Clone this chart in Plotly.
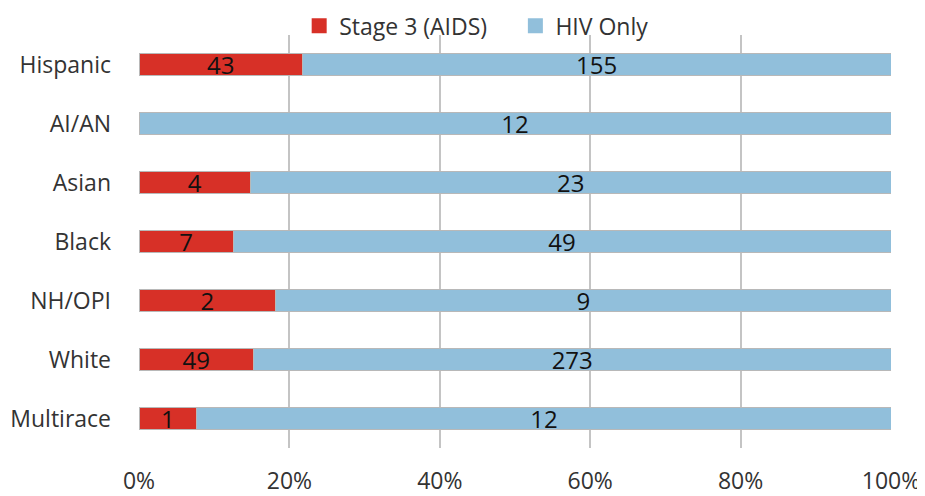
import plotly.graph_objects as go

categories = ["Hispanic", "AI/AN", "Asian", "Black", "NH/OPI", "White", "Multirace"]
stage3 = [43, 0, 4, 7, 2, 49, 1]
hiv_only = [155, 12, 23, 49, 9, 273, 12]
tick_vals = [0, 20, 40, 60, 80, 100]
tick_text = ["0%", "20%", "40%", "60%", "80%", "100%"]

FONT = "Open Sans"
TXT = "#333333"
RED = "#d73027"
BLUE = "#91bfdb"

fig = go.Figure()
fig.add_trace(go.Bar(
    y=categories, x=stage3, orientation="h", name="Stage 3 (AIDS)", showlegend=False,
    marker=dict(color=RED, line=dict(color="#b8b8b8", width=1)),
    text=[str(v) if v else "" for v in stage3],
    textposition="inside", insidetextanchor="middle", textangle=0,
    constraintext="none",
    textfont=dict(color="#111111", size=24, family=FONT),
))
fig.add_trace(go.Bar(
    y=categories, x=hiv_only, orientation="h", name="HIV Only", showlegend=False,
    marker=dict(color=BLUE, line=dict(color="#b8b8b8", width=1)),
    text=[str(v) for v in hiv_only],
    textposition="inside", insidetextanchor="middle", textangle=0,
    constraintext="none",
    textfont=dict(color="#111111", size=24, family=FONT),
))
# legend entries with larger square swatches
fig.add_trace(go.Scatter(x=[None], y=[None], mode="markers", name="Stage 3 (AIDS)",
                         legend="legend", hoverinfo="skip",
                         marker=dict(symbol="square", size=15, color=RED)))
fig.add_trace(go.Scatter(x=[None], y=[None], mode="markers", name="HIV Only",
                         legend="legend2", hoverinfo="skip",
                         marker=dict(symbol="square", size=15, color=BLUE)))

leg_common = dict(orientation="h", y=1.022, yanchor="middle",
                  font=dict(size=23, color=TXT, family=FONT),
                  bgcolor="rgba(0,0,0,0)", borderwidth=0)

# page body has an 8px margin, so the figure is sized/margined to compensate
fig.update_layout(
    width=917, height=488,
    barmode="stack", barnorm="percent", bargap=0.63,
    margin=dict(l=131, r=34, t=27, b=48, autoexpand=False),
    paper_bgcolor="white", plot_bgcolor="white",
    font=dict(family=FONT, size=23, color=TXT),
    uniformtext=dict(mode="show", minsize=24),
    showlegend=True,
    legend=dict(x=0.213, xanchor="left", **leg_common),
    legend2=dict(x=0.5005, xanchor="left", **leg_common),
    xaxis=dict(range=[0, 100], tickvals=tick_vals, ticktext=tick_text,
               showgrid=True, gridcolor="#c4c4c4", gridwidth=1.5,
               zeroline=False, showline=False, ticklabelstandoff=17,
               automargin=False,
               tickfont=dict(size=23, color=TXT, family=FONT), fixedrange=True),
    yaxis=dict(categoryorder="array", categoryarray=categories, autorange="reversed",
               showgrid=False, zeroline=False, showline=False, ticklabelstandoff=27,
               automargin=False,
               tickfont=dict(size=23, color=TXT, family=FONT)),
)

fig.write_html("out.html")
